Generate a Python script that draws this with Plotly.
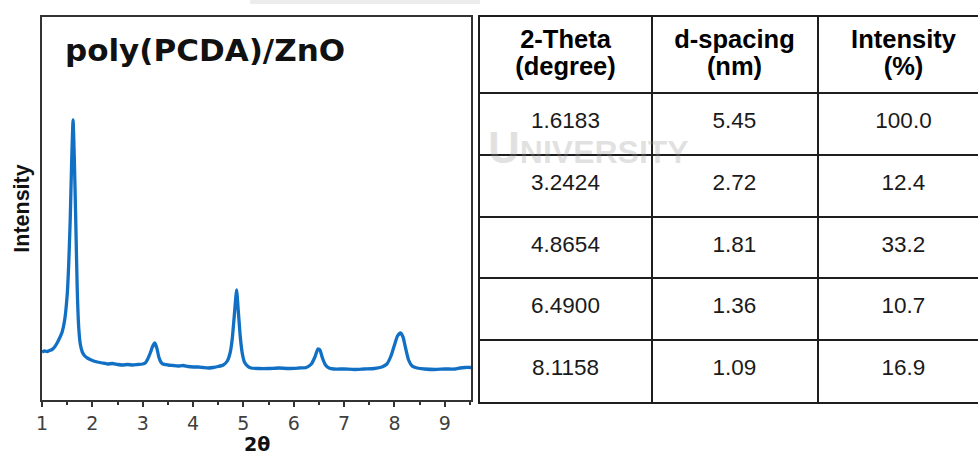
import plotly.graph_objects as go

two_theta = [1.00, 1.05, 1.10, 1.15, 1.20, 1.25, 1.30, 1.35, 1.40, 1.45, 1.50, 1.53, 1.56, 1.59,
             1.617, 1.64, 1.67, 1.70, 1.73, 1.76, 1.80, 1.85, 1.90, 2.00, 2.10, 2.20, 2.30, 2.40,
             2.50, 2.60, 2.70, 2.80, 2.90, 3.00, 3.05, 3.10, 3.15, 3.20, 3.24, 3.28, 3.32, 3.36,
             3.40, 3.50, 3.60, 3.70, 3.80, 3.90, 4.00, 4.10, 4.20, 4.30, 4.40, 4.50, 4.60, 4.68,
             4.74, 4.78, 4.82, 4.865, 4.90, 4.94, 4.98, 5.02, 5.08, 5.15, 5.30, 5.50, 5.70, 5.90,
             6.10, 6.25, 6.35, 6.42, 6.48, 6.52, 6.57, 6.63, 6.70, 6.80, 7.00, 7.20, 7.40, 7.60,
             7.75, 7.85, 7.93, 8.00, 8.06, 8.12, 8.17, 8.22, 8.28, 8.35, 8.45, 8.60, 8.80, 9.00,
             9.20, 9.30, 9.40, 9.52]
intensity = [48, 49, 48.5, 49.5, 50.5, 53, 57, 62, 68, 80, 105, 135, 180, 240,
             280, 245, 180, 110, 72, 56, 48, 44, 42, 39.5, 38, 37, 36, 36.5,
             35.5, 35, 35.5, 35, 35.5, 36, 37, 41, 47, 54, 57, 52, 43, 38,
             36, 35, 34.5, 34, 34.5, 33.5, 33, 33, 32.5, 32, 32.5, 33.5, 35, 39,
             48, 62, 85, 110, 88, 62, 46, 38, 34, 32, 31.5, 31.5, 32, 31.5,
             32, 32.5, 36, 43, 51, 50, 42, 35, 32, 31, 31, 30.5, 31, 31.5,
             33, 36, 44, 55, 64, 67, 63, 52, 40, 34, 32, 31, 30.5, 31,
             31, 32, 32.5, 32.5]

x_ticks = [1, 2, 3, 4, 5, 6, 7, 8, 9]
x_label = "2θ"
y_label = "Intensity"
chart_title = "poly(PCDA)/ZnO"

# ---------------- Table ----------------
header_line1 = ["2-Theta", "d-spacing", "Intensity"]
header_line2 = ["(degree)", "(nm)", "(%)"]
col_theta = ["1.6183", "3.2424", "4.8654", "6.4900", "8.1158"]
col_d = ["5.45", "2.72", "1.81", "1.36", "1.09"]
col_int = ["100.0", "12.4", "33.2", "10.7", "16.9"]

W, H = 978, 455
LINE = "#333333"
TBL = "#1e1e1e"

fig = go.Figure()

fig.add_trace(go.Scatter(
    x=two_theta, y=intensity, mode="lines",
    line=dict(color="#1270c4", width=3.3, shape="spline", smoothing=0.5),
    xaxis="x", yaxis="y", showlegend=False, hoverinfo="skip"))

# table geometry (pixel-like units on the table axes)
col_edges = [0, 172, 338, 510]
row_edges = [0, 76.6, 138.3, 200, 261.6, 323.3, 385]
col_centers = [(col_edges[i] + col_edges[i + 1]) / 2 for i in range(3)]
row_centers = [(row_edges[i] + row_edges[i + 1]) / 2 - 1.5 for i in range(1, 6)]

fig.add_trace(go.Scatter(
    x=col_centers, y=[24.5] * 3, text=header_line1, mode="text",
    textposition="middle center",
    textfont=dict(family="Liberation Sans", size=25.5, color="#000000", weight="bold"),
    xaxis="x2", yaxis="y2", showlegend=False, hoverinfo="skip"))
fig.add_trace(go.Scatter(
    x=col_centers, y=[51.5] * 3, text=header_line2, mode="text",
    textposition="middle center",
    textfont=dict(family="Liberation Sans", size=25.5, color="#000000", weight="bold"),
    xaxis="x2", yaxis="y2", showlegend=False, hoverinfo="skip"))

for ci, col in enumerate([col_theta, col_d, col_int]):
    fig.add_trace(go.Scatter(
        x=[col_centers[ci]] * len(col), y=row_centers, text=col, mode="text",
        textposition="middle center",
        textfont=dict(family="Liberation Sans", size=22.5, color="#1a1a1a"),
        xaxis="x2", yaxis="y2", showlegend=False, hoverinfo="skip"))

fig.update_layout(
    template="none",
    width=W, height=H,
    margin=dict(l=0, r=0, t=0, b=0, pad=0),
    paper_bgcolor="white", plot_bgcolor="rgba(0,0,0,0)",
    showlegend=False,
    xaxis=dict(
        domain=[42 / W, 471 / W], range=[1, 9.52], anchor="y", automargin=False,
        tickvals=x_ticks, ticks="outside", ticklen=5, tickwidth=1.5, tickcolor=LINE,
        minor=dict(ticks="outside", ticklen=3, tickwidth=1.5, tickcolor=LINE, dtick=0.5, tick0=1,
                   showgrid=False),
        showline=True, linewidth=2, linecolor=LINE, mirror=True,
        showgrid=False, zeroline=False,
        tickfont=dict(family="DejaVu Sans", size=19, color="#404040"),
        ticklabelstandoff=0,
    ),
    xaxis3=dict(
        domain=[42 / W, 471 / W], range=[1, 9.52], anchor="y", overlaying="x", automargin=False,
        tickvals=x_ticks, ticks="inside", ticklen=6, tickwidth=1.5, tickcolor=LINE,
        showticklabels=False, showline=False, showgrid=False, zeroline=False,
    ),
    yaxis=dict(
        domain=[55 / H, 438 / H], range=[0, 383], anchor="x", automargin=False,
        showticklabels=False, ticks="", showgrid=False, zeroline=False,
        showline=True, linewidth=2, linecolor=LINE, mirror=True,
        title=dict(text=y_label, standoff=4,
                   font=dict(family="Liberation Sans", size=21.5, color="#111111", weight="bold")),
    ),
    xaxis2=dict(
        domain=[479.5 / W, 1.0], range=[0, 498.5], anchor="y2", automargin=False,
        tickvals=col_edges[1:3], showticklabels=False, ticks="",
        showgrid=True, gridcolor=TBL, gridwidth=2, zeroline=False,
        showline=True, linewidth=2, linecolor=TBL, mirror=True,
    ),
    yaxis2=dict(
        domain=[53.3 / H, 438.3 / H], range=[385, 0], anchor="x2", automargin=False,
        tickvals=row_edges[1:6], showticklabels=False, ticks="",
        showgrid=True, gridcolor=TBL, gridwidth=2, zeroline=False,
        showline=True, linewidth=2, linecolor=TBL, mirror=False,
    ),
    shapes=[
        dict(type="rect", xref="paper", yref="paper", layer="below",
             x0=250 / W, x1=480 / W, y0=(H - 4) / H, y1=1.0,
             fillcolor="#ececec", line=dict(width=0)),
    ],
    annotations=[
        dict(text=chart_title, xref="paper", yref="paper",
             x=63 / W, y=(H - 50) / H, xanchor="left", yanchor="middle", showarrow=False,
             font=dict(family="DejaVu Sans", size=31, color="#111111", weight="bold")),
        dict(text=x_label, xref="paper", yref="paper",
             x=256.5 / W, y=(H - 444) / H, xanchor="center", yanchor="middle", showarrow=False,
             font=dict(family="DejaVu Sans", size=19, color="#111111", weight="bold")),
        dict(text="<span style='font-size:44px'>U</span>NIVERSITY", xref="paper", yref="paper",
             x=588 / W, y=(H - 148) / H, xanchor="center", yanchor="middle", showarrow=False,
             font=dict(family="Liberation Sans", size=32, color="rgba(150,150,150,0.28)",
                       weight="bold")),
    ],
)

fig.write_html("out.html")
